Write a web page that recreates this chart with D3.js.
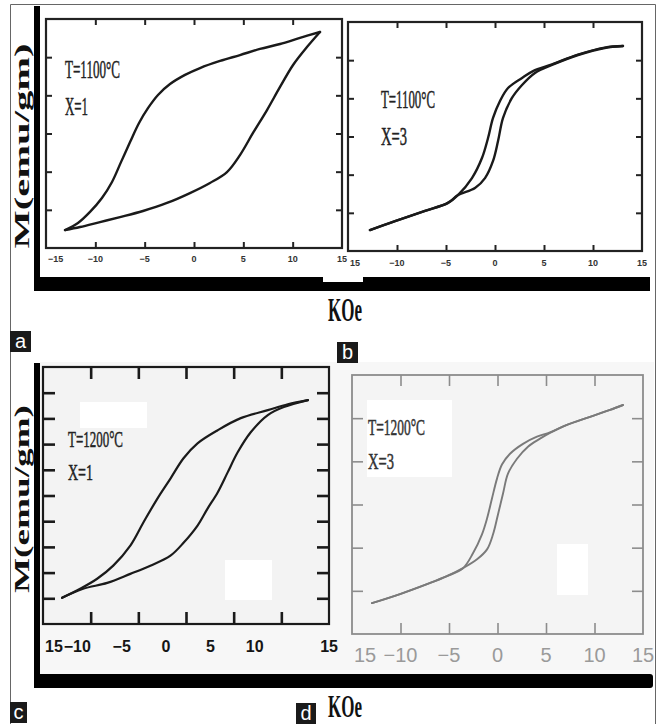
<!DOCTYPE html>
<html><head><meta charset="utf-8">
<script src="https://cdnjs.cloudflare.com/ajax/libs/d3/7.8.5/d3.min.js"></script>
<style>html,body{margin:0;padding:0;background:#fff;}</style>
</head><body><div id="chart"></div>
<script>
// ---------- data ----------
const xTickValues = [-10, -5, 0, 5, 10];
const xLabelValues = [-15, -10, -5, 0, 5, 10, 15];
const xLabelsA = ["−15", "−10", "−5", "0", "5", "10", "15"];
const xLabelsB = ["15", "−10", "−5", "0", "5", "10", "15"];
const xLabelsC = ["15", "−10", "−5", "0", "5", "10", "15"];
const xLabelsD = ["15", "−10", "−5", "0", "5", "10", "15"];
const yTicks6 = [-40, -20, 0, 20, 40];
const yTicks10 = [-40, -30, -20, -10, 0, 10, 20, 30, 40];
const annotA = ["T=1100°C", "X=1"];
const annotB = ["T=1100°C", "X=3"];
const annotC = ["T=1200°C", "X=1"];
const annotD = ["T=1200°C", "X=3"];
const panelLetters = ["a", "b", "c", "d"];
const yTitle = "M(emu/gm)";
const xTitle = "KOe";

// hysteresis branches: [H (kOe), M (arb.)]
const ascA = [[-13.07,-50.6],[-11.55,-49.0],[-9.53,-46.4],[-7.5,-43.8],[-5.17,-40.6],[-2.74,-36.4],[-0.41,-31.2],[1.62,-25.9],[3.34,-20.2],[4.66,-11.3],[5.98,0.3],[7.40,12.3],[8.72,24.4],[10.04,35.9],[11.45,45.3],[12.77,53.2]];
const descA = [[12.77,53.2],[10.74,50.1],[8.72,46.9],[6.69,44.3],[4.66,41.1],[2.64,38.0],[0.61,34.3],[-0.91,30.7],[-2.43,25.9],[-3.65,20.2],[-4.65,13.4],[-5.57,5.5],[-6.48,-4.5],[-7.4,-15.0],[-8.31,-25.4],[-9.33,-33.8],[-10.54,-41.1],[-11.76,-46.9],[-13.07,-50.6]];
const ascB = [[-12.76,-49.0],[-10.2,-44.3],[-7.14,-39.0],[-4.8,-34.8],[-3.78,-30.7],[-2.04,-27.0],[-1.02,-21.8],[-0.2,-12.8],[0.31,-2.4],[0.82,9.7],[1.73,20.2],[2.76,27.0],[4.08,33.3],[5.82,37.5],[8.47,42.7],[11.2,46.4],[13.06,47.4]];
const descB = [[13.06,47.4],[11.2,46.6],[8.47,42.9],[5.82,37.8],[3.88,34.3],[2.76,30.7],[1.33,25.4],[0.51,18.6],[-0.2,9.7],[-0.71,-0.8],[-1.33,-11.3],[-2.35,-21.8],[-3.78,-30.7],[-4.8,-34.8],[-7.14,-39.0],[-10.2,-44.3],[-12.76,-49.0]];
const ascC = [[-13.0,-39.8],[-10.79,-36.3],[-8.26,-34.0],[-5.84,-30.5],[-3.74,-27.3],[-1.63,-23.4],[-0.26,-18.4],[1.21,-11.7],[2.26,-5.1],[3.32,1.2],[4.37,9.0],[5.42,16.8],[6.79,24.6],[8.58,31.3],[10.26,34.4],[12.79,37.1]];
const descC = [[12.79,37.1],[10.68,35.5],[8.58,33.2],[5.74,30.1],[3.32,25.4],[1.21,20.3],[-0.26,14.5],[-1.63,6.6],[-3.0,-1.2],[-4.47,-10.5],[-5.84,-19.5],[-7.63,-27.3],[-9.32,-32.4],[-11.1,-36.3],[-13.0,-39.8]];
const ascD = [[-12.94,-45.7],[-10.05,-41.5],[-7.27,-36.9],[-5.21,-33.2],[-3.56,-29.5],[-2.11,-25.4],[-1.08,-20.8],[-0.46,-13.8],[0.05,-4.6],[0.57,5.1],[1.08,14.3],[2.01,21.2],[3.14,26.8],[4.38,30.5],[5.41,33.2],[7.16,36.9],[9.54,40.6],[11.6,43.8],[12.94,46.1]];
const descD = [[12.94,46.1],[11.6,43.8],[9.54,40.6],[7.16,36.9],[5.41,33.4],[4.07,31.4],[2.63,28.1],[1.29,23.5],[0.46,18.5],[-0.05,12.0],[-0.57,2.8],[-1.08,-6.5],[-1.6,-13.8],[-2.53,-22.6],[-3.56,-29.5],[-5.21,-33.2],[-7.27,-36.9],[-10.05,-41.5],[-12.94,-45.7]];

// ---------- layout / style ----------
const W = 660, H = 724;
const svg = d3.select("#chart").append("svg").attr("width", W).attr("height", H)
  .style("display", "block").style("background", "#fff");

const serif = "'Liberation Serif','DejaVu Serif',serif";
const sans = "'Liberation Sans','DejaVu Sans',Arial,sans-serif";

// light grey backdrop of the lower (scanned) half
svg.append("rect").attr("x", 40).attr("y", 362).attr("width", 614).attr("height", 312).attr("fill", "#f7f7f7");

// outer thin border
svg.append("path").attr("d", "M10.5,724 V4.5 H655.5 V724").attr("fill", "none").attr("stroke", "#666").attr("stroke-width", 1);

const panels = [
  {x0:46, x1:342, y0:19, y1:248, yDomain:[-60,60], yTicks:yTicks6, asc:ascA, desc:descA, labels:xLabelsA, annot:annotA,
   tickLen:6, frameColor:"#222", frameW:2.2, tickW:2, curveColor:"#1a1a1a", curveW:2.4, bg:null,
   labelFont:"bold 9px " + sans, labelFill:"#333", labelY:262, labelOffset:[0,0], lastAnchor:"middle", lastDx:0,
   annotFont:26, annotX:65, annotY:[78,115], annotLen:[55,23], annotFill:"#222", patches:[]},
  {x0:348, x1:642, y0:22, y1:251, yDomain:[-60,60], yTicks:yTicks6, asc:ascB, desc:descB, labels:xLabelsB, annot:annotB,
   tickLen:6, frameColor:"#222", frameW:2.2, tickW:2, curveColor:"#1a1a1a", curveW:2.4, bg:null,
   labelFont:"bold 9px " + sans, labelFill:"#333", labelY:266, labelOffset:[0,0], lastAnchor:"middle", lastDx:0,
   annotFont:26, annotX:381, annotY:[108,145], annotLen:[54,26], annotFill:"#222", patches:[]},
  {x0:43, x1:329, y0:367, y1:624, yDomain:[-50,50], yTicks:yTicks10, asc:ascC, desc:descC, labels:xLabelsC, annot:annotC,
   tickLen:12, frameColor:"#1a1a1a", frameW:2.2, tickW:2.6, curveColor:"#1a1a1a", curveW:2.2, bg:"#f3f3f3",
   labelFont:"bold 16px " + sans, labelFill:"#151515", labelY:652, labelOffset:[-10,-30], lastAnchor:"end", lastDx:9,
   annotFont:24, annotX:68, annotY:[447,480], annotLen:[55,25], annotFill:"#222",
   patches:[[80,402,67,26],[225,560,47,40]]},
  {x0:352, x1:643, y0:375, y1:634, yDomain:[-60,60], yTicks:yTicks6, asc:ascD, desc:descD, labels:xLabelsD, annot:annotD,
   tickLen:11, frameColor:"#8c8c8c", frameW:1.8, tickW:1.6, curveColor:"#7a7a7a", curveW:1.9, bg:"#f4f4f4",
   labelFont:"20px " + sans, labelFill:"#9a9a9a", labelY:662, labelOffset:[0,0], lastAnchor:"middle", lastDx:0,
   annotFont:23, annotX:368, annotY:[435,469], annotLen:[57,26], annotFill:"#333",
   patches:[[367,400,85,77],[557,544,31,51]]}
];

panels.forEach(p => {
  const g = svg.append("g");
  const x = d3.scaleLinear().domain([-15, 15]).range([p.x0, p.x1]);
  const y = d3.scaleLinear().domain(p.yDomain).range([p.y1, p.y0]);
  // label placement scale (the scanned labels sit slightly off their ticks)
  const xl = d3.scaleLinear().domain([-15, 15]).range([p.x0 + p.labelOffset[0], p.x1 + p.labelOffset[1]]);

  if (p.bg) g.append("rect").attr("x", p.x0).attr("y", p.y0).attr("width", p.x1 - p.x0).attr("height", p.y1 - p.y0).attr("fill", p.bg);
  p.patches.forEach(r => g.append("rect").attr("x", r[0]).attr("y", r[1]).attr("width", r[2]).attr("height", r[3]).attr("fill", "#fff"));

  // inward ticks on all four sides using d3 axes
  const styleAxis = sel => {
    sel.select(".domain").remove();
    sel.selectAll("text").remove();
    sel.selectAll("line").attr("stroke", p.frameColor).attr("stroke-width", p.tickW);
  };
  g.append("g").attr("transform", `translate(0,${p.y1})`)
    .call(d3.axisTop(x).tickValues(xTickValues).tickSize(p.tickLen).tickSizeOuter(0)).call(styleAxis);
  g.append("g").attr("transform", `translate(0,${p.y0})`)
    .call(d3.axisBottom(x).tickValues(xTickValues).tickSize(p.tickLen).tickSizeOuter(0)).call(styleAxis);
  g.append("g").attr("transform", `translate(${p.x0},0)`)
    .call(d3.axisRight(y).tickValues(p.yTicks).tickSize(p.tickLen).tickSizeOuter(0)).call(styleAxis);
  g.append("g").attr("transform", `translate(${p.x1},0)`)
    .call(d3.axisLeft(y).tickValues(p.yTicks).tickSize(p.tickLen).tickSizeOuter(0)).call(styleAxis);

  // frame
  g.append("rect").attr("x", p.x0).attr("y", p.y0).attr("width", p.x1 - p.x0).attr("height", p.y1 - p.y0)
    .attr("fill", "none").attr("stroke", p.frameColor).attr("stroke-width", p.frameW);

  // hysteresis loop
  const line = d3.line().x(d => x(d[0])).y(d => y(d[1])).curve(d3.curveCatmullRom.alpha(0.5));
  [p.asc, p.desc].forEach(branch => {
    g.append("path").attr("d", line(branch)).attr("fill", "none").attr("stroke", p.curveColor)
      .attr("stroke-width", p.curveW).attr("stroke-linejoin", "round").attr("stroke-linecap", "round");
  });

  // tick labels
  const n = xLabelValues.length;
  xLabelValues.forEach((v, i) => {
    let anchor = "middle", px = xl(v);
    if (i === 0) { anchor = "start"; px = x(v) + 2; }
    else if (i === n - 1) { anchor = p.lastAnchor; px = x(v) + p.lastDx; }
    g.append("text").attr("x", px).attr("y", p.labelY).attr("text-anchor", anchor)
      .style("font", p.labelFont).attr("fill", p.labelFill).text(p.labels[i]);
  });

  // annotation text (condensed serif)
  p.annot.forEach((t, i) => {
    g.append("text").attr("x", p.annotX).attr("y", p.annotY[i])
      .attr("textLength", p.annotLen[i]).attr("lengthAdjust", "spacingAndGlyphs")
      .style("font-family", serif).style("font-size", p.annotFont + "px").attr("fill", p.annotFill)
      .attr("stroke", p.annotFill).attr("stroke-width", 0.5)
      .text(t);
  });
});

// thick L-shaped outer axes and titles for each half
const halves = [
  {vTop:6, barY:277, barH:14, barR:650, notch:[323,363,5], titleCY:146, titleLen:205, kY:321, kSize:34},
  {vTop:363, barY:674, barH:14, barR:653, notch:null, titleCY:499, titleLen:188, kY:717, kSize:31}
];
halves.forEach(h => {
  svg.append("rect").attr("x", 34).attr("y", h.vTop).attr("width", 6).attr("height", h.barY + h.barH - h.vTop).attr("fill", "#000");
  if (h.notch) {
    svg.append("rect").attr("x", 34).attr("y", h.barY).attr("width", h.notch[0] - 34).attr("height", h.barH).attr("fill", "#000");
    svg.append("rect").attr("x", h.notch[0]).attr("y", h.barY + h.notch[2]).attr("width", h.notch[1] - h.notch[0]).attr("height", h.barH - h.notch[2]).attr("fill", "#000");
    svg.append("rect").attr("x", h.notch[1]).attr("y", h.barY).attr("width", h.barR - h.notch[1]).attr("height", h.barH).attr("fill", "#000");
  } else {
    svg.append("rect").attr("x", 34).attr("y", h.barY).attr("width", h.barR - 34).attr("height", h.barH).attr("rx", 3).attr("fill", "#000");
  }
  // y title
  svg.append("text").attr("transform", `translate(29,${h.titleCY}) rotate(-90)`)
    .attr("text-anchor", "middle").attr("textLength", h.titleLen).attr("lengthAdjust", "spacingAndGlyphs")
    .style("font-family", serif).style("font-weight", "bold").style("font-size", "22px").attr("fill", "#111")
    .text(yTitle);
  // x title
  svg.append("text").attr("x", 328).attr("y", h.kY).attr("textLength", 34).attr("lengthAdjust", "spacingAndGlyphs")
    .style("font-family", serif).style("font-weight", "bold").style("font-size", h.kSize + "px").attr("fill", "#111")
    .text(xTitle);
});

// panel letters (white on black boxes)
const letterBoxes = [[10,331,21,21],[337,342,21,21],[10,702,17,21],[296,703,20,21]];
panelLetters.forEach((L, i) => {
  const b = letterBoxes[i];
  svg.append("rect").attr("x", b[0]).attr("y", b[1]).attr("width", b[2]).attr("height", b[3]).attr("fill", "#1a1a1a");
  svg.append("text").attr("x", b[0] + b[2] / 2).attr("y", b[1] + b[3] - 4).attr("text-anchor", "middle")
    .style("font-family", sans).style("font-size", "20px").attr("fill", "#fff").text(L);
});
</script>
</body></html>
